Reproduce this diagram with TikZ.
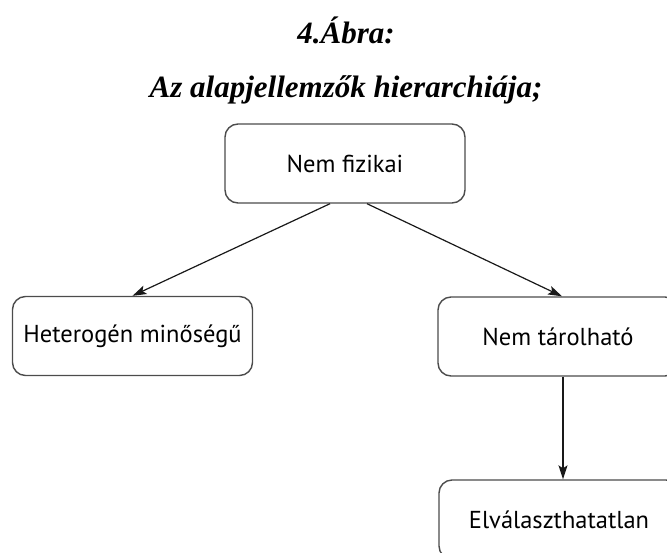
\documentclass[tikz,border=0pt]{standalone}
\usepackage{fontspec}
\setmainfont{Liberation Serif}
\newfontfamily\boxfont{PT Sans}
\usetikzlibrary{arrows.meta}

\tikzset{
  jellbox/.style={draw=black!70, line width=1.4pt, rounded corners=13pt,
    minimum width=240pt, minimum height=79pt, inner sep=0pt,
    font=\boxfont\fontsize{24.5}{28}\selectfont, text=black},
  jellarrow/.style={-{Stealth[length=14pt,width=9pt,inset=3pt]}, line width=1.2pt, draw=black!90},
  cimsor/.style={anchor=base, font=\bfseries\itshape\fontsize{31}{36}\selectfont}
}

\begin{document}
\begin{tikzpicture}[x=1pt,y=-1pt]
  \useasboundingbox (0,0) rectangle (667,552);
  \clip (0,0) rectangle (667,552);

  \node[cimsor] (abra) at (346,43) {4.Ábra:};
  \node[cimsor] (cim) at (346,97) {Az alapjellemzők hierarchiája;};

  \node[jellbox] (fizikai) at (345,163.5) {Nem fizikai};
  \node[jellbox] (heterogen) at (132.5,336) {Heterogén minőségű};
  \node[jellbox] (tarolhato) at (558,336.5) {Nem tárolható};
  \node[jellbox] (elvalaszt) at (559,519.5) {Elválaszthatatlan};

  \draw[jellarrow] ([xshift=-15pt]fizikai.south) -- (heterogen.north);
  \draw[jellarrow] ([xshift=22pt]fizikai.south) -- ([xshift=4pt]tarolhato.north);
  \draw[jellarrow] ([xshift=5pt]tarolhato.south) -- ([xshift=4pt]elvalaszt.north);
\end{tikzpicture}
\end{document}
